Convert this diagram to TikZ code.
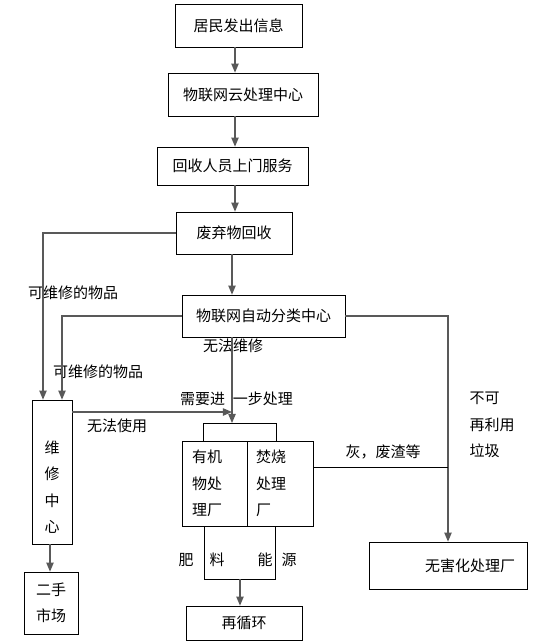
\documentclass[tikz,border=0pt]{standalone}
\usepackage{fontspec}
\newfontfamily\cjk{Noto Sans CJK SC}
\usetikzlibrary{shapes,arrows}

\begin{document}
\begin{tikzpicture}[x=1pt,y=-1pt,font=\cjk\fontsize{15}{26.5}\selectfont,
  box/.style={draw,line width=0.8pt,inner sep=0pt},
  line/.style={line width=0.8pt},
  arr/.style={->,>=triangle 45,draw=black!65,line width=1.1pt}]
  \useasboundingbox (0,0) rectangle (545,644);
  \node[box,minimum width=127pt,minimum height=43pt] (jm) at (238.5,25.5) {居民发出信息};
  \node[box,minimum width=150pt,minimum height=43pt] (wl) at (243,94.5) {物联网云处理中心};
  \node[box,minimum width=151pt,minimum height=38pt] (hs) at (232.5,166) {回收人员上门服务};
  \node[box,minimum width=116pt,minimum height=42pt] (fq) at (234,233) {废弃物回收};
  \node[box,minimum width=163pt,minimum height=42pt] (fl) at (263.5,316) {物联网自动分类中心};
  \node[box,minimum width=40pt,minimum height=144pt,align=center,text height=122pt] (wx) at (52,472) {维\\修\\中\\心};
  \node[box,minimum width=54pt,minimum height=62pt,align=center] (es) at (51,603) {二手\\市场};
  \node[box,minimum width=65pt,minimum height=85pt,align=left,inner xsep=10pt,text width=45pt] (yj) at (214.5,483.5) {有机\\物处\\理厂};
  \node[box,minimum width=66pt,minimum height=85pt,align=left,inner xsep=9pt,text width=48pt] (fs) at (280,483.5) {焚烧\\处理\\厂};
  \node[box,minimum width=116pt,minimum height=34pt] (zxh) at (244,623) {再循环};
  \node[box,minimum width=158pt,minimum height=47pt,align=right,inner xsep=12pt,text width=134pt] (whc) at (448,565.5) {无害化处理厂};
  % labels
  \node (kwx1) at (73,293) {可维修的物品};
  \node (wfwx) at (233,346) {无法维修};
  \node (kwx2) at (98,372) {可维修的物品};
  \node (xyjb) at (236.5,399) {需要进\hspace{8pt}一步处理};
  \node (wfsy) at (117,426) {无法使用};
  \node (hfz) at (383,452) {灰，废渣等};
  \node[align=left,anchor=west] (bkly) at (466,425) {不可\\再利用\\垃圾};
  \node (fei) at (186,560) {肥};
  \node (liao) at (217,560) {料};
  \node (neng) at (265,560) {能};
  \node (yuan) at (289,560) {源};
  % helper coordinates
  \coordinate (ax) at (235,0);
  \coordinate (bx) at (232,0);
  \coordinate (lx1) at (43,0);
  \coordinate (lx2) at (62,0);
  \coordinate (ex) at (50,0);
  \coordinate (kt) at (232,423);
  \coordinate (kl) at (203,0);
  \coordinate (kr) at (276,0);
  \coordinate (wy) at (0,412);
  \coordinate (hy) at (0,467);
  \coordinate (db) at (0,579);
  \coordinate (dl) at (204,0);
  \coordinate (dr) at (275,0);
  \coordinate (dm) at (240,0);
  % connectors
  \draw[arr] (jm.south -| ax) -- (wl.north -| ax);
  \draw[arr] (wl.south -| ax) -- (hs.north -| ax);
  \draw[arr] (hs.south -| ax) -- (fq.north -| ax);
  \draw[arr] (fq.south -| bx) -- (fl.north -| bx);
  \draw[arr] (fq.west) -| (wx.north -| lx1);
  \draw[arr] (fl.west) -| (wx.north -| lx2);
  \draw[arr] (fl.south -| bx) -- (kt);
  \draw[line] (yj.north -| kl) -- (kl |- kt) -- (kr |- kt) -- (fs.north -| kr);
  \draw[arr] (wx.east |- wy) -- (bx |- wy);
  \draw[arr] (fl.east) -| (whc.north);
  \draw[line] (fs.east |- hy) -- (whc.north |- hy);
  \draw[line] (yj.south -| dl) -- (dl |- db) -- (dr |- db) -- (fs.south -| dr);
  \draw[arr] (dm |- db) -- (dm |- zxh.north);
  \draw[arr] (wx.south -| ex) -- (es.north -| ex);
\end{tikzpicture}
\end{document}
